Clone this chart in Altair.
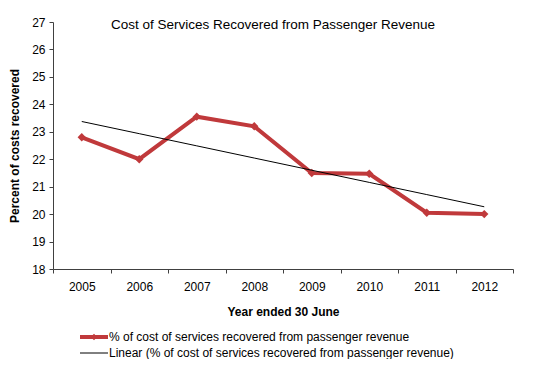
import altair as alt
import pandas as pd
import numpy as np

years = ["2005", "2006", "2007", "2008", "2009", "2010", "2011", "2012"]
pct = [22.8, 22.0, 23.55, 23.2, 21.5, 21.47, 20.05, 20.0]

series_name = "% of cost of services recovered from passenger revenue"
trend_name = "Linear (% of cost of services recovered from passenger revenue)"
title_text = "Cost of Services Recovered  from Passenger  Revenue"
y_ticks = [18, 19, 20, 21, 22, 23, 24, 25, 26, 27]

idx = np.arange(len(years))
slope, intercept = np.polyfit(idx, pct, 1)
trend = [float(intercept + slope * i) for i in idx]

df = pd.DataFrame({"year": years, "pct": pct, "trend": trend})

FONT = "Liberation Sans"
RED = "#C0393B"

x_scale = alt.Scale(type="band", paddingInner=0, paddingOuter=0)
x_axis = alt.Axis(
    title="Year ended 30 June",
    titleFont=FONT, titleFontSize=12, titleFontWeight="bold", titleColor="black",
    titlePadding=14,
    labelFont=FONT, labelFontSize=12, labelColor="black", labelAngle=0, labelPadding=8,
    tickBand="extent", tickSize=4, tickColor="#404040", domainColor="#404040",
    grid=False,
)
y_scale = alt.Scale(domain=[18, 27], nice=False, zero=False)
y_axis = alt.Axis(
    title="Percent of costs recovered",
    titleFont=FONT, titleFontSize=12, titleFontWeight="bold", titleColor="black",
    titleX=-32, titleY=123.5, titleAngle=-90,
    labelFont=FONT, labelFontSize=12, labelColor="black", labelPadding=4,
    labelOverlap=False, tickCount=20, format="d",
    values=y_ticks, tickSize=4, tickColor="#404040", domainColor="#404040",
    grid=False,
)


def xe():
    return alt.X("year:O", bandPosition=0.5, scale=x_scale, axis=x_axis)


def ye(field):
    return alt.Y(field, type="quantitative", scale=y_scale, axis=y_axis)


base = alt.Chart(df)

line = base.mark_line(color=RED, strokeWidth=4).encode(x=xe(), y=ye("pct"))
pts = base.mark_point(shape="diamond", filled=True, color=RED, size=70, opacity=1).encode(
    x=xe(), y=ye("pct")
)
trendline = base.mark_line(color="black", strokeWidth=1).encode(x=xe(), y=ye("trend"))

# Title
title = alt.Chart(pd.DataFrame({"t": [title_text]})).mark_text(
    font=FONT, fontSize=13.5, color="black", align="center", baseline="middle"
).encode(text="t:N", x=alt.value(220), y=alt.value(3))

# Legend (manual)
leg1_line = alt.Chart(pd.DataFrame({"a": [0]})).mark_rule(color=RED, strokeWidth=4).encode(
    x=alt.value(27), x2=alt.value(55), y=alt.value(315)
)
leg1_pt = alt.Chart(pd.DataFrame({"a": [0]})).mark_point(
    shape="diamond", filled=True, color=RED, size=40, opacity=1
).encode(x=alt.value(41), y=alt.value(315))
leg2_line = alt.Chart(pd.DataFrame({"a": [0]})).mark_rule(color="black", strokeWidth=1).encode(
    x=alt.value(27), x2=alt.value(55), y=alt.value(331)
)
leg1_text = alt.Chart(pd.DataFrame({"t": [series_name]})).mark_text(
    font=FONT, fontSize=12, color="black", align="left", baseline="middle"
).encode(text="t:N", x=alt.value(56), y=alt.value(315))
leg2_text = alt.Chart(pd.DataFrame({"t": [trend_name]})).mark_text(
    font=FONT, fontSize=12, color="black", align="left", baseline="middle"
).encode(text="t:N", x=alt.value(56), y=alt.value(331))

chart = alt.layer(
    line, pts, trendline, title, leg1_line, leg1_pt, leg2_line, leg1_text, leg2_text
).properties(
    width=460, height=247,
    autosize=alt.AutoSizeParams(type="none"),
    padding={"left": 45, "top": 14, "right": 25, "bottom": 90},
).configure(background="white").configure_view(strokeWidth=0)

chart.save("out.html", embed_options={"renderer": "svg", "actions": False})
